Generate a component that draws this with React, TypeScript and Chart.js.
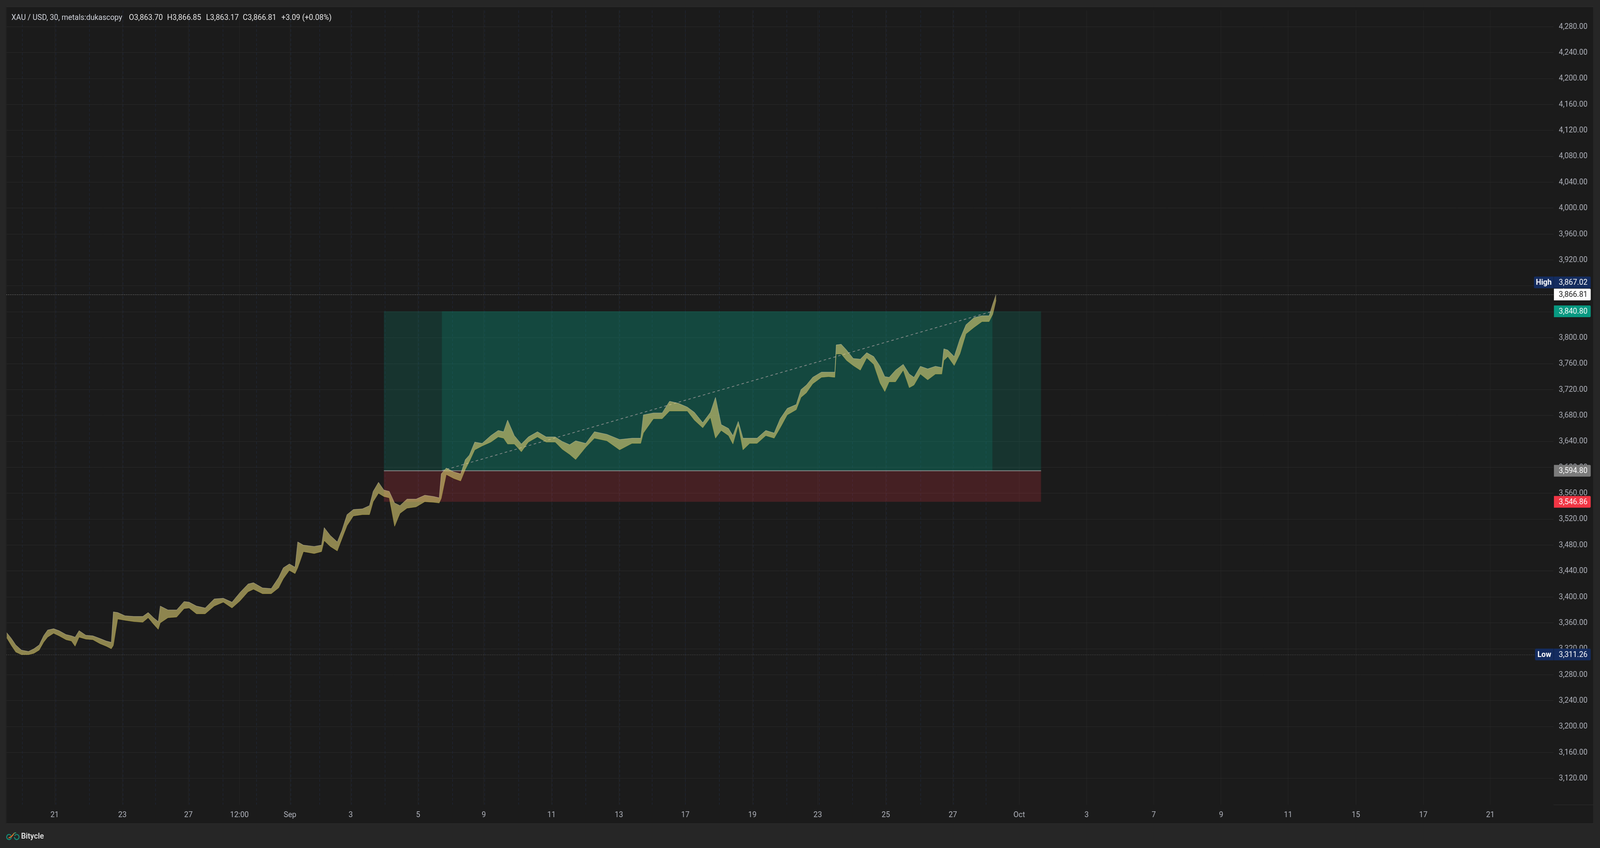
import React, { useEffect, useRef } from 'react';
import { Chart, registerables } from 'chart.js';

Chart.register(...registerables);

const W = 4481;
const H = 2171;

// ---- time axis (units: trading days counted from Aug 21) ----
const xTickValues = [0, 2.02, 3.99, 5.51, 7.02, 8.83, 10.84, 12.8, 14.82, 16.83, 18.81, 20.81, 22.76, 24.79, 26.79, 28.77, 30.78, 32.78, 34.79, 36.79, 38.81, 40.82, 42.82];
const xTickLabels = ['21', '23', '27', '12:00', 'Sep', '3', '5', '9', '11', '13', '17', '19', '23', '25', '27', 'Oct', '3', '7', '9', '11', '15', '17', '21'];
const sessionBreaks = [-0.97, 0.03, 1.03, 2.03, 3.0, 4.01, 5.02, 6.02, 7.04, 7.9, 8.85, 9.85, 10.85, 11.86, 12.82, 13.83, 14.83, 15.84, 16.85, 17.82, 18.81, 19.82, 20.83, 21.83, 22.8, 23.79, 24.8, 25.82, 26.8, 27.77];
const X_MIN = -1.4377;
const X_MAX = 44.707;

// ---- price axis ----
const yTickValues = [4280, 4240, 4200, 4160, 4120, 4080, 4040, 4000, 3960, 3920, 3880, 3840, 3800, 3760, 3720, 3680, 3640, 3600, 3560, 3520, 3480, 3440, 3400, 3360, 3320, 3280, 3240, 3200, 3160, 3120];
const Y_MIN = 3079.5;
const Y_MAX = 4305.2;

// ---- XAU/USD 30m price envelope (time, high, low) ----
const times = [-1.43, -1.29, -1.16, -0.99, -0.78, -0.62, -0.46, -0.33, -0.21, -0.03, 0.13, 0.34, 0.5, 0.61, 0.73, 0.93, 1.14, 1.35, 1.54, 1.69, 1.75, 1.88, 2.1, 2.36, 2.63, 2.79, 2.95, 3.09, 3.15, 3.38, 3.64, 3.86, 4.01, 4.23, 4.49, 4.76, 5.03, 5.29, 5.53, 5.77, 5.93, 6.2, 6.46, 6.68, 6.82, 7.0, 7.17, 7.25, 7.42, 7.74, 7.96, 8.04, 8.22, 8.43, 8.57, 8.72, 8.91, 9.18, 9.39, 9.5, 9.66, 9.82, 9.98, 10.14, 10.3, 10.51, 10.78, 11.04, 11.31, 11.47, 11.53, 11.68, 11.9, 12.11, 12.25, 12.37, 12.53, 12.75, 13.01, 13.23, 13.39, 13.51, 13.71, 13.92, 14.13, 14.4, 14.66, 14.93, 15.14, 15.36, 15.54, 15.84, 16.1, 16.47, 16.85, 17.22, 17.48, 17.56, 17.86, 18.12, 18.34, 18.6, 18.87, 19.08, 19.33, 19.56, 19.71, 19.88, 20.1, 20.23, 20.39, 20.53, 20.73, 20.95, 21.21, 21.46, 21.64, 21.85, 22.12, 22.26, 22.42, 22.61, 22.87, 23.08, 23.27, 23.31, 23.46, 23.62, 23.82, 24.03, 24.22, 24.43, 24.62, 24.76, 24.89, 25.08, 25.31, 25.49, 25.63, 25.82, 26.04, 26.27, 26.46, 26.52, 26.64, 26.83, 27.0, 27.18, 27.42, 27.66, 27.87, 27.98, 28.08];
const highs = [3345, 3336, 3326, 3318, 3316, 3320, 3326, 3340, 3349, 3351, 3348, 3342, 3340, 3338, 3348, 3341, 3340, 3336, 3332, 3330, 3377, 3376, 3371, 3370, 3370, 3376, 3368, 3362, 3386, 3380, 3380, 3393, 3392, 3386, 3383, 3397, 3398, 3392, 3407, 3420, 3422, 3414, 3413, 3430, 3445, 3451, 3446, 3485, 3480, 3478, 3480, 3507, 3495, 3485, 3503, 3527, 3535, 3536, 3541, 3563, 3577, 3565, 3563, 3545, 3541, 3551, 3551, 3557, 3555, 3553, 3590, 3599, 3593, 3590, 3612, 3619, 3639, 3637, 3649, 3657, 3655, 3673, 3649, 3636, 3647, 3655, 3647, 3647, 3640, 3635, 3641, 3637, 3655, 3651, 3643, 3645, 3645, 3681, 3684, 3684, 3702, 3699, 3693, 3685, 3669, 3685, 3708, 3666, 3660, 3649, 3671, 3645, 3645, 3645, 3657, 3653, 3675, 3691, 3697, 3720, 3727, 3739, 3747, 3747, 3747, 3789, 3790, 3781, 3768, 3767, 3777, 3771, 3756, 3740, 3739, 3750, 3759, 3744, 3739, 3756, 3752, 3756, 3754, 3783, 3781, 3771, 3798, 3820, 3831, 3834, 3834, 3852, 3867];
const lows = [3337, 3325, 3315, 3311, 3311, 3313, 3318, 3330, 3338, 3344, 3340, 3334, 3332, 3324, 3338, 3335, 3334, 3328, 3324, 3320, 3325, 3366, 3364, 3362, 3361, 3368, 3358, 3350, 3360, 3368, 3369, 3382, 3383, 3374, 3374, 3386, 3392, 3383, 3394, 3408, 3412, 3405, 3405, 3414, 3428, 3441, 3436, 3445, 3470, 3467, 3470, 3487, 3478, 3471, 3490, 3510, 3525, 3527, 3527, 3547, 3560, 3555, 3553, 3509, 3529, 3537, 3539, 3547, 3546, 3545, 3552, 3589, 3583, 3579, 3597, 3609, 3627, 3633, 3639, 3647, 3645, 3636, 3636, 3624, 3639, 3647, 3639, 3639, 3628, 3620, 3612, 3631, 3645, 3641, 3627, 3637, 3637, 3653, 3675, 3675, 3687, 3687, 3687, 3673, 3661, 3677, 3645, 3657, 3649, 3636, 3665, 3627, 3637, 3637, 3649, 3645, 3661, 3681, 3689, 3708, 3715, 3729, 3739, 3740, 3739, 3775, 3775, 3765, 3757, 3750, 3769, 3759, 3730, 3717, 3732, 3732, 3750, 3723, 3727, 3744, 3735, 3744, 3744, 3765, 3771, 3757, 3775, 3806, 3816, 3825, 3825, 3836, 3858];

// ---- price levels ----
const lastPrice = 3866.81;
const sessionHigh = 3867.02;
const sessionLow = 3311.26;
const targetPrice = 3840.8;
const entryPrice = 3594.8;
const stopPrice = 3546.86;
// long position tool time span
const positionStart = 9.82;
const positionEnd = 29.42;
const activeStart = 11.55;
const activeEnd = 27.97;

// ---- header ----
const titleText = 'XAU / USD, 30, metals:dukascopy';
const ohlcLabels = ['O3,863.70', 'H3,866.85', 'L3,863.17', 'C3,866.81'];
const changeText = '+3.09 (+0.08%)';
const brandText = 'Bitycle';

const FONT = 'Roboto, "Noto Sans", sans-serif';

const fmt = (v: number) =>
  v.toLocaleString('en-US', { minimumFractionDigits: 2, maximumFractionDigits: 2 });

function roundRect(ctx: CanvasRenderingContext2D, x: number, y: number, w: number, h: number, rl: number, rr: number) {
  ctx.beginPath();
  ctx.moveTo(x + rl, y);
  ctx.lineTo(x + w - rr, y);
  ctx.quadraticCurveTo(x + w, y, x + w, y + rr);
  ctx.lineTo(x + w, y + h - rr);
  ctx.quadraticCurveTo(x + w, y + h, x + w - rr, y + h);
  ctx.lineTo(x + rl, y + h);
  ctx.quadraticCurveTo(x, y + h, x, y + h - rl);
  ctx.lineTo(x, y + rl);
  ctx.quadraticCurveTo(x, y, x + rl, y);
  ctx.closePath();
}

const overlayPlugin = {
  id: 'overlay',
  beforeDatasetsDraw(chart: any) {
    const { ctx, chartArea: a, scales } = chart;
    const x = scales.x;
    const y = scales.y;
    ctx.save();
    ctx.beginPath();
    ctx.rect(a.left, a.top, a.right - a.left, a.bottom - a.top);
    ctx.clip();

    // session break lines
    ctx.strokeStyle = '#222c43';
    ctx.lineWidth = 1;
    ctx.setLineDash([7, 5]);
    sessionBreaks.forEach((t) => {
      const px = Math.round(x.getPixelForValue(t)) + 0.5;
      ctx.beginPath();
      ctx.moveTo(px, a.top);
      ctx.lineTo(px, a.bottom);
      ctx.stroke();
    });
    ctx.setLineDash([]);

    // long position zones
    const x0 = x.getPixelForValue(positionStart);
    const x1 = x.getPixelForValue(positionEnd);
    const xa0 = x.getPixelForValue(activeStart);
    const xa1 = x.getPixelForValue(activeEnd);
    const yT = y.getPixelForValue(targetPrice);
    const yE = y.getPixelForValue(entryPrice);
    const yS = y.getPixelForValue(stopPrice);
    ctx.fillStyle = 'rgba(8,153,129,0.2)';
    ctx.fillRect(x0, yT, x1 - x0, yE - yT);
    ctx.fillRect(xa0, yT, xa1 - xa0, yE - yT);
    ctx.fillStyle = 'rgba(242,54,69,0.2)';
    ctx.fillRect(x0, yE, x1 - x0, yS - yE);

    // entry line
    ctx.strokeStyle = '#8c8c8c';
    ctx.lineWidth = 2;
    ctx.beginPath();
    ctx.moveTo(x0, yE);
    ctx.lineTo(x1, yE);
    ctx.stroke();

    // diagonal dashed
    ctx.setLineDash([7, 7]);
    ctx.strokeStyle = 'rgba(150,150,150,0.85)';
    ctx.lineWidth = 2;
    ctx.beginPath();
    ctx.moveTo(xa0, yE);
    ctx.lineTo(xa1, yT);
    ctx.stroke();

    // dotted price lines
    ctx.setLineDash([2, 3]);
    ctx.lineWidth = 1;
    const yL = Math.round(y.getPixelForValue(lastPrice)) + 0.5;
    ctx.strokeStyle = 'rgba(210,210,210,0.75)';
    ctx.beginPath();
    ctx.moveTo(a.left, yL);
    ctx.lineTo(a.right, yL);
    ctx.stroke();
    const yLow = Math.round(y.getPixelForValue(sessionLow)) + 0.5;
    ctx.strokeStyle = 'rgba(170,170,170,0.5)';
    ctx.beginPath();
    ctx.moveTo(a.left, yLow);
    ctx.lineTo(a.right, yLow);
    ctx.stroke();
    ctx.restore();
  },
  afterDraw(chart: any) {
    const { ctx, chartArea: a, scales } = chart;
    const y = scales.y;
    ctx.save();
    // corner separator
    ctx.fillStyle = '#2e2e2e';
    ctx.fillRect(a.right, a.bottom, 112, 1);

    const bx = a.right + 1;
    const bw = 103;
    const bh = 30;
    const textR = a.right + 95;
    ctx.font = `21px ${FONT}`;
    ctx.textBaseline = 'middle';

    const tag = (yc: number, bg: string, fg: string, text: string, label?: string, labelW?: number) => {
      if (label && labelW) {
        ctx.fillStyle = bg;
        roundRect(ctx, bx - labelW - 1, yc - bh / 2, labelW + 1 + bw, bh, 3, 3);
        ctx.fill();
        ctx.fillStyle = 'rgba(0,0,0,0.35)';
        ctx.fillRect(bx - 1, yc - bh / 2, 1, bh);
        ctx.fillStyle = fg;
        ctx.textAlign = 'center';
        ctx.font = `bold 21px ${FONT}`;
        ctx.fillText(label, bx - 1 - labelW / 2, yc + 1);
        ctx.font = `21px ${FONT}`;
      } else {
        ctx.fillStyle = bg;
        roundRect(ctx, bx, yc - bh / 2, bw, bh, 0, 3);
        ctx.fill();
      }
      ctx.fillStyle = fg;
      ctx.textAlign = 'right';
      ctx.fillText(text, textR, yc + 1);
    };

    const yLast = y.getPixelForValue(lastPrice);
    tag(y.getPixelForValue(targetPrice), '#089981', '#ffffff', fmt(targetPrice));
    tag(y.getPixelForValue(entryPrice), '#7b7b7b', '#ffffff', fmt(entryPrice));
    tag(y.getPixelForValue(stopPrice), '#f23645', '#ffffff', fmt(stopPrice));
    tag(yLast, '#ffffff', '#131313', fmt(lastPrice));
    tag(Math.min(y.getPixelForValue(sessionHigh), yLast - bh - 1), '#142c5f', '#ffffff', fmt(sessionHigh), 'High', 55);
    tag(y.getPixelForValue(sessionLow), '#142c5f', '#ffffff', fmt(sessionLow), 'Low', 52);
    ctx.restore();
  },
};

export default function App() {
  const ref = useRef<HTMLCanvasElement>(null);

  const vw = typeof window !== 'undefined' && window.innerWidth ? window.innerWidth : W;
  const vh = typeof window !== 'undefined' && window.innerHeight ? window.innerHeight : H;
  const sx = vw / W;
  const sy = vh / H;

  useEffect(() => {
    if (!ref.current) return;
    const chart = new Chart(ref.current, {
      type: 'line',
      data: {
        datasets: [
          {
            label: 'High',
            data: times.map((t, i) => ({ x: t, y: highs[i] })),
            borderColor: 'rgba(245,240,220,0.5)',
            borderWidth: 1,
            backgroundColor: 'rgba(220,205,115,0.6)',
            fill: '+1',
            pointRadius: 0,
            tension: 0,
          },
          {
            label: 'Low',
            data: times.map((t, i) => ({ x: t, y: lows[i] })),
            borderColor: 'rgba(240,215,55,0.5)',
            borderWidth: 1,
            fill: false,
            pointRadius: 0,
            tension: 0,
          },
        ],
      },
      options: {
        responsive: false,
        animation: false,
        devicePixelRatio: 1,
        layout: { padding: { left: 18, top: 18, right: 35, bottom: 62 } },
        plugins: { legend: { display: false }, tooltip: { enabled: false } },
        scales: {
          x: {
            type: 'linear',
            position: 'bottom',
            min: X_MIN,
            max: X_MAX,
            afterBuildTicks: (s: any) => {
              s.ticks = xTickValues.map((v) => ({ value: v }));
            },
            afterFit: (s: any) => {
              s.height = 49;
            },
            grid: { color: '#282828', drawTicks: false, lineWidth: 1 },
            border: { display: false },
            ticks: {
              autoSkip: false,
              maxRotation: 0,
              minRotation: 0,
              padding: 14,
              color: '#b2b5be',
              font: { size: 21, family: FONT },
              callback: (_v: any, i: number) => xTickLabels[i],
            },
          },
          y: {
            type: 'linear',
            position: 'right',
            min: Y_MIN,
            max: Y_MAX,
            afterBuildTicks: (s: any) => {
              s.ticks = yTickValues.map((v) => ({ value: v }));
            },
            afterFit: (s: any) => {
              s.width = 95;
            },
            grid: { color: '#2a2a2a', drawTicks: false, lineWidth: 1 },
            border: { display: false },
            ticks: {
              crossAlign: 'far',
              padding: 14,
              color: '#b2b5be',
              font: { size: 21, family: FONT },
              callback: (v: any) => fmt(Number(v)),
            },
          },
        },
      } as any,
      plugins: [overlayPlugin],
    });
    return () => chart.destroy();
  }, []);

  const headerStyle: React.CSSProperties = {
    position: 'absolute',
    top: 34,
    fontFamily: FONT,
    fontSize: 21,
    lineHeight: '21px',
    whiteSpace: 'nowrap',
    color: '#d1d4dc',
  };

  return (
    <div
      style={{
        position: 'fixed',
        left: 0,
        top: 0,
        width: W,
        height: H,
        background: '#262626',
        overflow: 'hidden',
        transform: `scale(${sx}, ${sy})`,
        transformOrigin: '0 0',
      }}
    >
      <div
        style={{
          position: 'absolute',
          left: 17,
          top: 17,
          width: 4446,
          height: 2092,
          background: '#1b1b1b',
          boxShadow: 'inset 0 0 0 1px #2f2f2f',
        }}
      />
      <canvas ref={ref} width={W} height={H} style={{ position: 'absolute', left: 0, top: 0, width: W, height: H }} />
      <span style={{ ...headerStyle, left: 32 }}>{titleText}</span>
      <span style={{ ...headerStyle, left: 361, color: '#e6e6e6' }}>{ohlcLabels[0]}</span>
      <span style={{ ...headerStyle, left: 468, color: '#e6e6e6' }}>{ohlcLabels[1]}</span>
      <span style={{ ...headerStyle, left: 577, color: '#e6e6e6' }}>{ohlcLabels[2]}</span>
      <span style={{ ...headerStyle, left: 680, color: '#e6e6e6' }}>{ohlcLabels[3]}</span>
      <span style={{ ...headerStyle, left: 788, color: '#e6e6e6' }}>{changeText}</span>
      <svg width={40} height={24} viewBox="0 0 40 24" style={{ position: 'absolute', left: 16, top: 2129 }}>
        <defs>
          <linearGradient id="bikeFrame" x1="0" y1="1" x2="1" y2="0">
            <stop offset="0" stopColor="#f0622a" />
            <stop offset="0.6" stopColor="#e07a2a" />
            <stop offset="1" stopColor="#1f9a7c" />
          </linearGradient>
        </defs>
        <path d="M14.5 10 A6.5 6.5 0 1 0 15.6 15" stroke="#168f78" strokeWidth={2.6} fill="none" strokeLinecap="round" />
        <path d="M25.5 10 A6.5 6.5 0 1 1 24.4 15" stroke="#168f78" strokeWidth={2.6} fill="none" strokeLinecap="round" />
        <path d="M9 16 Q18 13 22 6 Q24 3 28 3" stroke="url(#bikeFrame)" strokeWidth={2.6} fill="none" strokeLinecap="round" />
      </svg>
      <span
        style={{
          position: 'absolute',
          left: 59,
          top: 2130,
          fontFamily: FONT,
          fontSize: 21,
          fontWeight: 600,
          lineHeight: '21px',
          color: '#e0e0e0',
          whiteSpace: 'nowrap',
        }}
      >
        {brandText}
      </span>
    </div>
  );
}
